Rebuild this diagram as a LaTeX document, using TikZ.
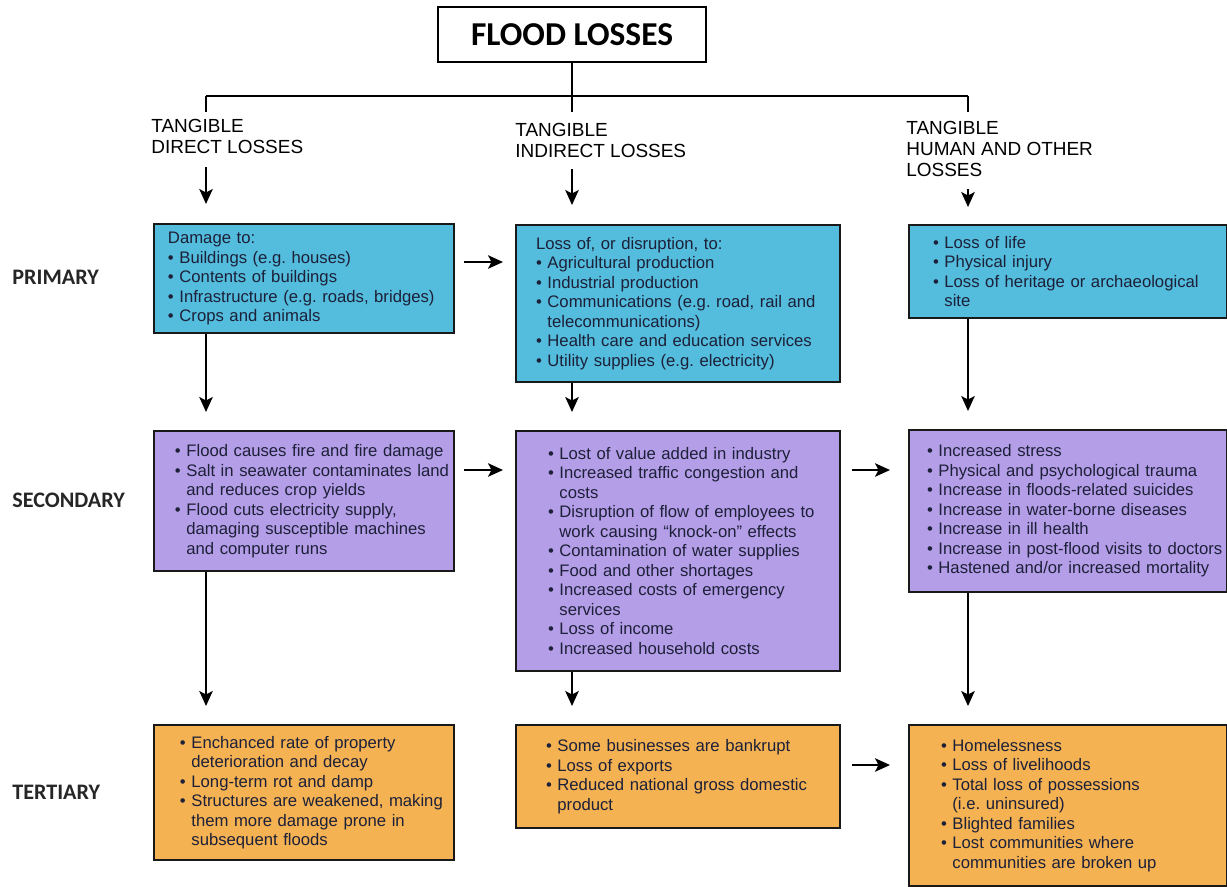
\documentclass[tikz,border=0pt]{standalone}
\usepackage{fontspec}
\setmainfont{Liberation Sans}
\newfontfamily\calfont{Carlito}
\usetikzlibrary{arrows.meta}
\definecolor{primcol}{RGB}{84,188,220}
\definecolor{seccol}{RGB}{181,158,232}
\definecolor{tertcol}{RGB}{245,178,82}
\definecolor{inkcol}{RGB}{28,32,56}
\newcommand{\itm}[1]{\mbox{\makebox[6.5pt][l]{\textbullet}#1}}
\newcommand{\cnt}[1]{\mbox{\hspace*{6.5pt}#1}}
\frenchspacing
\begin{document}
\begin{tikzpicture}[x=0.02cm,y=-0.02cm,
    boite/.style={draw=black!90,line width=0.04cm,anchor=north west,align=left,
                  inner ysep=0pt,text=inkcol,font=\fontsize{9.5}{11.1}\selectfont},
    entete/.style={anchor=north west,align=left,inner sep=0pt,
                   font=\fontsize{10.8}{12}\selectfont}]
    \tikzstyle{titre}=[draw,line width=0.04cm,minimum width=5.38cm,minimum height=1.1cm,
                       font=\calfont\bfseries\fontsize{19}{22}\selectfont]
    \tikzstyle{rang}=[anchor=west,inner sep=0pt,text=black!85,
                      font=\calfont\bfseries\fontsize{12.6}{14}\selectfont]
    \tikzstyle{trait}=[line width=0.035cm]
    \tikzstyle{fleche}=[-{Stealth[length=0.3cm,width=0.27cm,inset=0.07cm]},line width=0.035cm]
    \useasboundingbox (0,0) rectangle (1227,886);
    \node[titre] (titre) at (572,34.5) {FLOOD LOSSES};
    \coordinate (colA) at (206,96);
    \coordinate (colB) at (572,96);
    \coordinate (colC) at (968,96);
    \coordinate (r1) at (0,262);
    \coordinate (r2) at (0,470);
    \coordinate (r3) at (0,765);
    % headers
    \node[entete] (hA) at (151,119) {TANGIBLE\\DIRECT LOSSES};
    \node[entete] (hB) at (515,123) {TANGIBLE\\INDIRECT LOSSES};
    \node[entete] (hC) at (906,121) {TANGIBLE\\HUMAN AND OTHER\\LOSSES};
    % row labels
    \node[rang] (prim) at (12,277) {PRIMARY};
    \node[rang] (sec) at (12,500) {SECONDARY};
    \node[rang] (tert) at (12,792) {TERTIARY};
    % primary
    \node[boite,fill=primcol,minimum height=2.18cm,text width=5.44cm,inner xsep=0.28cm]
        (a1) at (153,223) {Damage to:\\ \itm{Buildings (e.g. houses)}\\ \itm{Contents of buildings}\\
        \itm{Infrastructure (e.g. roads, bridges)}\\ \itm{Crops and animals}};
    \node[boite,fill=primcol,minimum height=3.14cm,text width=5.68cm,inner xsep=0.4cm]
        (b1) at (515,224) {Loss of, or disruption, to:\\ \itm{Agricultural production}\\
        \itm{Industrial production}\\ \itm{Communications (e.g. road, rail and}\\
        \cnt{telecommunications)}\\ \itm{Health care and education services}\\
        \itm{Utility supplies (e.g. electricity)}};
    \node[boite,fill=primcol,minimum height=1.86cm,text width=5.4cm,inner xsep=0.48cm]
        (c1) at (908,224) {\itm{Loss of life}\\ \itm{Physical injury}\\
        \itm{Loss of heritage or archaeological}\\ \cnt{site}};
    % secondary
    \node[boite,fill=seccol,minimum height=2.8cm,text width=5.16cm,inner xsep=0.42cm]
        (a2) at (153,430) {\itm{Flood causes fire and fire damage}\\
        \itm{Salt in seawater contaminates land}\\ \cnt{and reduces crop yields}\\
        \itm{Flood cuts electricity supply,}\\ \cnt{damaging susceptible machines}\\
        \cnt{and computer runs}};
    \node[boite,fill=seccol,minimum height=4.8cm,text width=5.2cm,inner xsep=0.64cm]
        (b2) at (515,430) {\itm{Lost of value added in industry}\\
        \itm{Increased traffic congestion and}\\ \cnt{costs}\\
        \itm{Disruption of flow of employees to}\\ \cnt{work causing “knock-on” effects}\\
        \itm{Contamination of water supplies}\\ \itm{Food and other shortages}\\
        \itm{Increased costs of emergency}\\ \cnt{services}\\
        \itm{Loss of income}\\ \itm{Increased household costs}};
    \node[boite,fill=seccol,minimum height=3.24cm,text width=5.64cm,inner xsep=0.36cm]
        (c2) at (908,429) {\itm{Increased stress}\\ \itm{Physical and psychological trauma}\\
        \itm{Increase in floods-related suicides}\\ \itm{Increase in water-borne diseases}\\
        \itm{Increase in ill health}\\ \itm{Increase in post-flood visits to doctors}\\
        \itm{Hastened and/or increased mortality}};
    % tertiary
    \node[boite,fill=tertcol,minimum height=2.7cm,text width=4.96cm,inner xsep=0.52cm]
        (a3) at (153,724) {\itm{Enchanced rate of property}\\ \cnt{deterioration and decay}\\
        \itm{Long-term rot and damp}\\ \itm{Structures are weakened, making}\\
        \cnt{them more damage prone in}\\ \cnt{subsequent floods}};
    \node[boite,fill=tertcol,minimum height=2.06cm,text width=5.28cm,inner xsep=0.6cm]
        (b3) at (515,724) {\itm{Some businesses are bankrupt}\\ \itm{Loss of exports}\\
        \itm{Reduced national gross domestic}\\ \cnt{product}};
    \node[boite,fill=tertcol,minimum height=3.22cm,text width=5.08cm,inner xsep=0.64cm]
        (c3) at (908,724) {\itm{Homelessness}\\ \itm{Loss of livelihoods}\\
        \itm{Total loss of possessions}\\ \cnt{(i.e. uninsured)}\\ \itm{Blighted families}\\
        \itm{Lost communities where}\\ \cnt{communities are broken up}};
    % tree lines
    \draw[trait] (titre.south) -- (colB);
    \draw[trait] (colA) -- (colC);
    \draw[trait,shorten >=0.14cm] (colA) -- (hA.north -| colA);
    \draw[trait,shorten >=0.22cm] (colB) -- (hB.north -| colB);
    \draw[trait,shorten >=0.18cm] (colC) -- (hC.north -| colC);
    \draw[fleche,shorten <=0.26cm,shorten >=0.38cm] (hA.south -| colA) -- (a1.north -| colA);
    \draw[fleche,shorten <=0.22cm,shorten >=0.38cm] (hB.south -| colB) -- (b1.north -| colB);
    \draw[fleche,shorten <=0.24cm,shorten >=0.34cm] (hC.south -| colC) -- (c1.north -| colC);
    % down arrows
    \draw[fleche,shorten >=0.36cm] (a1.south -| colA) -- (a2.north -| colA);
    \draw[fleche,shorten >=0.36cm] (b1.south -| colB) -- (b2.north -| colB);
    \draw[fleche,shorten >=0.36cm] (c1.south -| colC) -- (c2.north -| colC);
    \draw[fleche,shorten >=0.36cm] (a2.south -| colA) -- (a3.north -| colA);
    \draw[fleche,shorten >=0.36cm] (b2.south -| colB) -- (b3.north -| colB);
    \draw[fleche,shorten >=0.36cm] (c2.south -| colC) -- (c3.north -| colC);
    % across arrows
    \draw[fleche,shorten <=0.18cm,shorten >=0.24cm] (a1.east |- r1) -- (b1.west |- r1);
    \draw[fleche,shorten <=0.18cm,shorten >=0.24cm] (a2.east |- r2) -- (b2.west |- r2);
    \draw[fleche,shorten <=0.22cm,shorten >=0.36cm] (b2.east |- r2) -- (c2.west |- r2);
    \draw[fleche,shorten <=0.22cm,shorten >=0.36cm] (b3.east |- r3) -- (c3.west |- r3);
\end{tikzpicture}
\end{document}
